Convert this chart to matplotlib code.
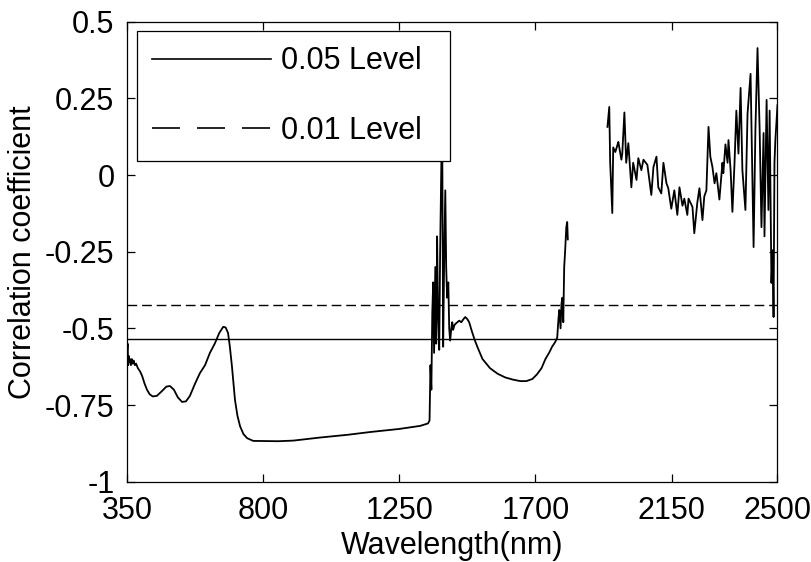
import matplotlib
matplotlib.use('Agg')
import matplotlib.pyplot as plt
from matplotlib.lines import Line2D

plt.rcParams['font.family'] = ['Liberation Sans', 'DejaVu Sans']

# Segment 1: 350-1807 nm
wl1 = [350, 352, 354, 356, 358, 360, 363, 366, 369, 372, 376, 380, 386, 393, 400,
       408, 416, 425, 435, 449, 465, 480, 492, 505, 518, 532, 545, 558, 575, 591,
       608, 624, 640, 655, 668, 676, 684, 690, 697, 702, 707, 715, 724, 735, 747,
       767, 850, 900, 988, 1080, 1154, 1250, 1319, 1345, 1350, 1353, 1356, 1359,
       1362, 1365, 1369, 1372, 1375, 1378, 1382, 1385, 1389, 1392, 1395, 1398,
       1402, 1405, 1408, 1412, 1415, 1418, 1422, 1425, 1428, 1432, 1436, 1442,
       1448, 1455, 1462, 1468, 1475, 1481, 1490, 1500, 1510, 1525, 1550, 1575,
       1600, 1625, 1650, 1670, 1690, 1705, 1720, 1733, 1745, 1755, 1765, 1772,
       1776, 1779, 1783, 1786, 1789, 1792, 1795, 1798, 1802, 1805, 1807]
r1 = [-0.58, -0.55, -0.62, -0.59, -0.61, -0.60, -0.62, -0.60, -0.615, -0.605,
      -0.62, -0.615, -0.63, -0.64, -0.655, -0.68, -0.70, -0.715, -0.722, -0.72,
      -0.705, -0.69, -0.688, -0.70, -0.725, -0.74, -0.738, -0.72, -0.68, -0.646,
      -0.62, -0.58, -0.55, -0.515, -0.495, -0.497, -0.515, -0.56, -0.625, -0.68,
      -0.734, -0.785, -0.82, -0.845, -0.858, -0.867, -0.868, -0.866, -0.856,
      -0.847, -0.838, -0.828, -0.818, -0.81, -0.80, -0.62, -0.70, -0.45, -0.35,
      -0.58, -0.30, -0.55, -0.20, -0.45, -0.57, -0.25, 0.04, 0.10, -0.56, -0.30,
      -0.05, -0.30, -0.40, -0.35, -0.50, -0.54, -0.50, -0.48, -0.505, -0.49,
      -0.485, -0.48, -0.475, -0.48, -0.47, -0.463, -0.47, -0.48, -0.51, -0.54,
      -0.565, -0.60, -0.63, -0.648, -0.66, -0.667, -0.672, -0.672, -0.665,
      -0.65, -0.63, -0.60, -0.58, -0.56, -0.545, -0.53, -0.47, -0.44, -0.50,
      -0.42, -0.40, -0.48, -0.30, -0.25, -0.17, -0.153, -0.21]

# Segment 2: 1938-2500 nm
wl2 = [1938, 1944, 1947, 1954, 1957, 1964, 1971, 1974, 1984, 1987, 1994, 2000,
       2007, 2017, 2023, 2034, 2040, 2050, 2057, 2070, 2083, 2090, 2100, 2106,
       2116, 2123, 2133, 2139, 2149, 2159, 2169, 2176, 2186, 2192, 2202, 2206,
       2219, 2225, 2235, 2242, 2252, 2258, 2265, 2272, 2278, 2285, 2292, 2298,
       2308, 2318, 2321, 2328, 2335, 2338, 2345, 2351, 2358, 2364, 2371, 2378,
       2384, 2394, 2401, 2411, 2421, 2427, 2434, 2441, 2447, 2454, 2457, 2464,
       2470, 2474, 2480, 2484, 2487, 2490, 2493, 2500]
r2 = [0.157, 0.222, 0.04, -0.124, 0.09, 0.075, 0.098, 0.108, 0.05, 0.07, 0.204,
      0.04, 0.104, -0.04, 0.04, -0.016, 0.055, 0.016, 0.05, 0.033, -0.065, 0.026,
      0.06, -0.04, -0.06, 0.04, -0.027, -0.043, -0.11, -0.05, -0.13, -0.04, -0.10,
      -0.077, -0.13, -0.077, -0.104, -0.19, -0.09, -0.043, -0.147, -0.07, -0.05,
      0.157, 0.06, 0.026, -0.027, 0.006, -0.08, 0.04, 0.006, 0.10, 0.04, 0.114,
      0.016, -0.12, 0.04, 0.21, 0.07, 0.284, 0.016, -0.114, 0.20, 0.33, -0.235,
      0.147, 0.414, 0.147, -0.17, 0.137, -0.20, 0.245, -0.114, 0.21, -0.352,
      -0.245, -0.463, 0.04, 0.114, 0.228]

level_05 = -0.536
level_01 = -0.424
legend_labels = ['0.05 Level', '0.01 Level']

xticks = [350, 800, 1250, 1700, 2150, 2500]
yticks = [-1, -0.75, -0.5, -0.25, 0, 0.25, 0.5]
ytick_labels = ['-1', '-0.75', '-0.5', '-0.25', '0', '0.25', '0.5']

FS = 22

fig = plt.figure(figsize=(8.12, 5.62), dpi=100)
ax = fig.add_axes([0.1564, 0.1429, 0.8011, 0.8185])

ax.plot(wl1, r1, color='black', lw=1.3)
ax.plot(wl2, r2, color='black', lw=1.3)
ax.axhline(level_05, color='black', lw=1.0)
ax.axhline(level_01, color='black', lw=1.0, dashes=(7, 3.5))

ax.set_xlim(350, 2500)
ax.set_ylim(-1, 0.5)
ax.set_xticks(xticks)
ax.set_yticks(yticks)
ax.set_yticklabels(ytick_labels)
ax.tick_params(direction='in', top=True, right=True, length=6, width=0.9,
               labelsize=FS)
ax.tick_params(axis='x', pad=10)
ax.tick_params(axis='y', pad=9)
for s in ax.spines.values():
    s.set_linewidth(0.9)

ax.set_xlabel('Wavelength(nm)', fontsize=FS, labelpad=4)
ax.set_ylabel('Correlation coefficient', fontsize=FS, labelpad=5)

handles = [Line2D([], [], color='black', lw=1.2),
           Line2D([], [], color='black', lw=1.2, dashes=(16.8, 10.2))]
leg = ax.legend(handles, legend_labels, loc='upper left', mode='expand',
                bbox_to_anchor=(0.1687, 0.5, 0.3855, 0.4448),
                bbox_transform=fig.transFigure,
                borderaxespad=0, fontsize=FS, handlelength=3.9,
                handletextpad=0.3, labelspacing=1.3, borderpad=0.5,
                fancybox=False, edgecolor='black', framealpha=1)
leg.get_frame().set_linewidth(0.9)

fig.savefig('out.png', dpi=100)
